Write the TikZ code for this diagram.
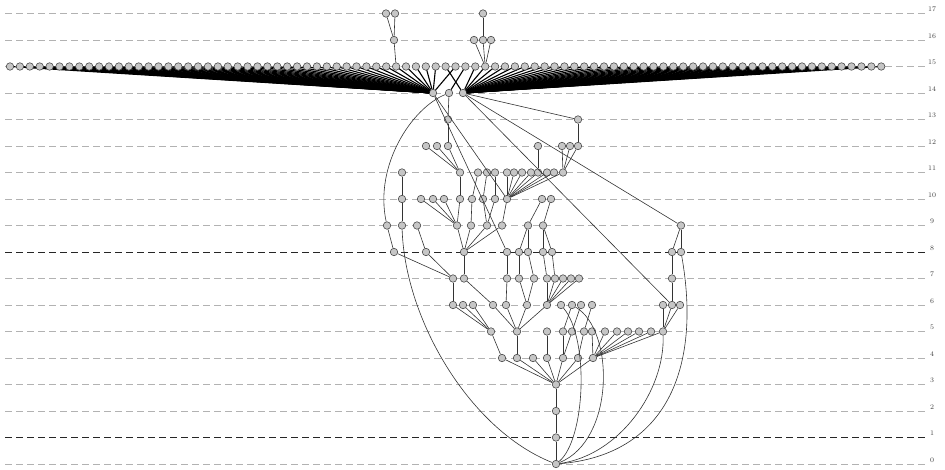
\documentclass[tikz,border=0pt]{standalone}
\usepackage{tikz}
\usetikzlibrary{positioning,calc}

\begin{document}
\begin{tikzpicture}[x=1pt,y=-1pt,
  vtx/.style={circle, draw=black!70, fill=gray!45, inner sep=0pt,
    minimum size=7.5pt, line width=0.6pt},
  levelline/.style={draw=gray!60, dash pattern=on 7pt off 4pt, line width=0.8pt},
  darkline/.style={draw=black!85, dash pattern=on 7pt off 4pt, line width=0.8pt},
  edge/.style={draw=black!80, line width=0.6pt},
  fan/.style={draw=black, line width=1.1pt},
  lbl/.style={font=\fontsize{7}{8}\selectfont, text=black!75,
    anchor=south, inner sep=1.5pt}
]
\useasboundingbox (0,0) rectangle (945,469);

% dashed level lines with their numbers
\foreach \k in {0,...,17} {
  \draw[levelline] (5,{464-26.5*\k}) -- (928,{464-26.5*\k});
  \node[lbl] (lab\k) at (932,{464-26.5*\k}) {\k};
}
\draw[darkline] (5,{464-26.5*8}) -- (928,{464-26.5*8});
\draw[darkline] (5,{464-26.5*1}) -- (928,{464-26.5*1});

% nodes, level by level
\foreach \x in {386,395,483} \node[vtx] (n17-\x) at (\x,13.5) {};
\foreach \x in {394,474,483,491} \node[vtx] (n16-\x) at (\x,40) {};
\foreach \x in {433,449,463} \node[vtx] (n14-\x) at (\x,93) {};
\foreach \x in {448,578} \node[vtx] (n13-\x) at (\x,119.5) {};
\foreach \x in {426,437,448,538,562,570,578} \node[vtx] (n12-\x) at (\x,146) {};
\foreach \x in {402,460,478,487,495,507,514,522,531,538,547,554,563}
  \node[vtx] (n11-\x) at (\x,172.5) {};
\foreach \x in {402,421,433,444,460,472,483,495,507,542,551}
  \node[vtx] (n10-\x) at (\x,199) {};
\foreach \x in {387,402,417,457,471,487,502,528,543,681}
  \node[vtx] (n9-\x) at (\x,225.5) {};
\foreach \x in {394,426,464,507,519,528,543,552,672,681}
  \node[vtx] (n8-\x) at (\x,252) {};
\foreach \x in {453,464,507,519,534,547,555,563,571,579,672}
  \node[vtx] (n7-\x) at (\x,278.5) {};
\foreach \x in {453,463,473,493,506,527,547,561,572,581,592,663,672,680}
  \node[vtx] (n6-\x) at (\x,305) {};
\foreach \x in {491,517,547,563,572,584,592,605,617,628,639,651,663}
  \node[vtx] (n5-\x) at (\x,331.5) {};
\foreach \x in {502,517,533,547,563,578,593} \node[vtx] (n4-\x) at (\x,358) {};
\node[vtx] (n3-556) at (556,384.5) {};
\node[vtx] (n2-556) at (556,411) {};
\node[vtx] (n1-556) at (556,437.5) {};
\node[vtx] (n0-556) at (556,464) {};

% the wide fan (drawn first, row of nodes on top)
\foreach \i in {0,...,43,45} \draw[fan] ({10+9.9*\i},66.5) -- (n14-433);
\foreach \i in {44,47,48,...,88} \draw[fan] ({10+9.9*\i},66.5) -- (n14-463);
\draw[fan] ({10+9.9*46},66.5) -- (n14-449);
\foreach \i in {0,...,88} \node[vtx] (t\i) at ({10+9.9*\i},66.5) {};

% top branches
\draw[edge] (n17-386) -- (n16-394);
\draw[edge] (n17-395) -- (n16-394);
\draw[edge] (n17-483) -- (n16-483);
\draw[edge] (n16-394) -- (t39);
\foreach \x in {474,483,491} \draw[edge] (n16-\x) -- (t48);

% from level 14
\draw[edge] (n14-449) -- (n13-448);
\draw[edge] (n14-463) -- (n13-578);
\draw[edge] (n14-433) -- (n10-507);
\draw[edge] (n14-433) -- (n8-507);
\draw[edge] (n14-463) -- (n9-681);
\draw[edge] (n14-463) -- (n6-672);
\draw[edge] (n14-449) .. controls (412,108) and (374,165) .. (n9-387);

% levels 13 to 10
\draw[edge] (n13-448) -- (n12-448);
\draw[edge] (n13-578) -- (n12-578);
\foreach \x in {426,437,448} \draw[edge] (n12-\x) -- (n11-460);
\draw[edge] (n12-538) -- (n11-538);
\foreach \x in {562,570,578} \draw[edge] (n12-\x) -- (n11-563);
\draw[edge] (n11-402) -- (n10-402);
\draw[edge] (n11-460) -- (n10-460);
\draw[edge] (n11-478) -- (n10-472);
\draw[edge] (n11-487) -- (n10-483);
\draw[edge] (n11-495) -- (n10-495);
\foreach \x in {507,514,522,531,538,547,554,563} \draw[edge] (n11-\x) -- (n10-507);

% levels 10 to 8
\draw[edge] (n10-402) -- (n9-402);
\foreach \x in {421,433,444,460} \draw[edge] (n10-\x) -- (n9-457);
\draw[edge] (n10-472) -- (n9-471);
\draw[edge] (n10-483) -- (n9-487);
\draw[edge] (n10-495) -- (n9-487);
\draw[edge] (n10-507) -- (n9-502);
\draw[edge] (n10-542) -- (n9-528);
\draw[edge] (n10-551) -- (n9-543);
\draw[edge] (n9-387) -- (n8-394);
\draw[edge] (n9-417) -- (n8-426);
\foreach \x in {457,471,487,502} \draw[edge] (n9-\x) -- (n8-464);
\draw[edge] (n9-528) -- (n8-519);
\draw[edge] (n9-528) -- (n8-528);
\draw[edge] (n9-543) -- (n8-543);
\draw[edge] (n9-543) -- (n8-552);
\draw[edge] (n9-681) -- (n8-672);
\draw[edge] (n9-681) -- (n8-681);

% levels 8 to 6
\draw[edge] (n8-394) -- (n7-453);
\draw[edge] (n8-426) -- (n7-453);
\draw[edge] (n8-464) -- (n7-464);
\draw[edge] (n8-507) -- (n7-507);
\draw[edge] (n8-519) -- (n7-519);
\draw[edge] (n8-528) -- (n7-534);
\draw[edge] (n8-543) -- (n7-547);
\draw[edge] (n8-552) -- (n7-555);
\draw[edge] (n8-672) -- (n7-672);
\draw[edge] (n7-453) -- (n6-453);
\draw[edge] (n7-464) -- (n6-493);
\draw[edge] (n7-507) -- (n6-506);
\draw[edge] (n7-519) -- (n6-527);
\draw[edge] (n7-534) -- (n6-527);
\foreach \x in {547,555,563,571,579} \draw[edge] (n7-\x) -- (n6-547);
\draw[edge] (n7-672) -- (n6-672);

% levels 6 to 3
\foreach \x in {453,463,473} \draw[edge] (n6-\x) -- (n5-491);
\foreach \x in {493,506,527,547} \draw[edge] (n6-\x) -- (n5-517);
\draw[edge] (n6-572) -- (n5-563);
\draw[edge] (n6-581) -- (n5-572);
\draw[edge] (n6-592) -- (n5-584);
\foreach \x in {663,672,680} \draw[edge] (n6-\x) -- (n5-663);
\draw[edge] (n5-491) -- (n4-502);
\draw[edge] (n5-517) -- (n4-517);
\draw[edge] (n5-547) -- (n4-547);
\draw[edge] (n5-563) -- (n4-563);
\draw[edge] (n5-572) -- (n4-563);
\draw[edge] (n5-584) -- (n4-578);
\foreach \x in {592,605,617,628,639,651,663} \draw[edge] (n5-\x) -- (n4-593);
\foreach \x in {502,517,533,547,563,578,593} \draw[edge] (n4-\x) -- (n3-556);

% trunk
\draw[edge] (n3-556) -- (n2-556);
\draw[edge] (n2-556) -- (n1-556);
\draw[edge] (n1-556) -- (n0-556);

% long arcs into level 0
\draw[edge] (n9-402) .. controls (405,320) and (470,430) .. (n0-556);
\draw[edge] (n6-561) .. controls (590,340) and (585,440) .. (n0-556);
\draw[edge] (n6-572) .. controls (615,330) and (615,440) .. (n0-556);
\draw[edge] (n5-663) .. controls (665,390) and (620,455) .. (n0-556);
\draw[edge] (n8-681) .. controls (702,370) and (665,455) .. (n0-556);

\end{tikzpicture}
\end{document}
